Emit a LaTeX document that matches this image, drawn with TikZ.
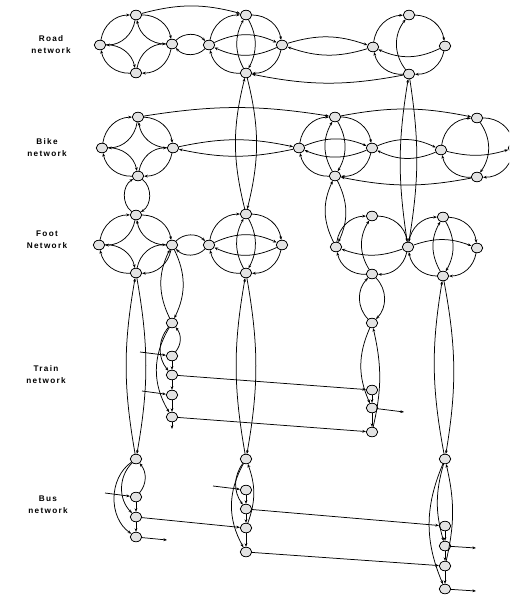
\documentclass[tikz,border=0pt]{standalone}
\usepackage{fontspec}
\setsansfont{Liberation Sans}
\usetikzlibrary{arrows.meta,shapes.geometric}

\begin{document}
\begin{tikzpicture}[x=1pt, y=-1pt, line width=0.75pt, >={Stealth[length=3.6pt,width=2.8pt]},
  station/.style={ellipse, draw, fill=gray!22, minimum width=11.5pt, minimum height=9.5pt, inner sep=0pt},
  link/.style={->},
  layer/.style={font=\sffamily\bfseries\fontsize{8.2}{12}\selectfont\addfontfeature{LetterSpace=16}, align=center}]
  \clip (0,0) rectangle (509,599);

  % Layer labels
  \node[layer] (roadlbl)  at (51,45)  {Road\\network};
  \node[layer] (bikelbl)  at (47,148) {Bike\\network};
  \node[layer] (footlbl)  at (47,240) {Foot\\Network};
  \node[layer] (trainlbl) at (46,375) {Train\\network};
  \node[layer] (buslbl)   at (48,505) {Bus\\network};

  % Road network stations
  \node[station] (r1t) at (136,15) {};
  \node[station] (r1l) at (100,45) {};
  \node[station] (r1r) at (172,44) {};
  \node[station] (r1b) at (136,73) {};
  \node[station] (r2)  at (209,45) {};
  \node[station] (r3t) at (246,15) {};
  \node[station] (r3r) at (282,45) {};
  \node[station] (r3b) at (246,73) {};
  \node[station] (r4l) at (373,47) {};
  \node[station] (r4t) at (409,15) {};
  \node[station] (r4r) at (445,46) {};
  \node[station] (r4b) at (409,74) {};

  % Bike network stations
  \node[station] (b1t) at (138,117) {};
  \node[station] (b1l) at (102,148) {};
  \node[station] (b1r) at (173,148) {};
  \node[station] (b1b) at (138,176) {};
  \node[station] (b2l) at (299,148) {};
  \node[station] (b2t) at (335,117) {};
  \node[station] (b2r) at (372,148) {};
  \node[station] (b2b) at (335,176) {};
  \node[station] (b3l) at (441,150) {};
  \node[station] (b3t) at (477,118) {};
  \node[station] (b3r) at (514,148) {};
  \node[station] (b3b) at (477,177) {};

  % Foot network stations
  \node[station] (f1t) at (136,215) {};
  \node[station] (f1l) at (99,245)  {};
  \node[station] (f1r) at (172,245) {};
  \node[station] (f1b) at (136,273) {};
  \node[station] (f2)  at (209,245) {};
  \node[station] (f3t) at (246,214) {};
  \node[station] (f3r) at (282,245) {};
  \node[station] (f3b) at (246,273) {};
  \node[station] (f4l) at (336,247) {};
  \node[station] (f4t) at (372,216) {};
  \node[station] (f4c) at (408,247) {};
  \node[station] (f4b) at (372,274) {};
  \node[station] (f5t) at (443,217) {};
  \node[station] (f5r) at (477,248) {};
  \node[station] (f5b) at (443,276) {};

  % Train network stations
  \node[station] (t1a) at (172,323) {};
  \node[station] (t1b) at (172,356) {};
  \node[station] (t1c) at (172,375) {};
  \node[station] (t1d) at (172,395) {};
  \node[station] (t1e) at (172,417) {};
  \node[station] (t2a) at (372,323) {};
  \node[station] (t2b) at (372,390) {};
  \node[station] (t2c) at (372,408) {};
  \node[station] (t2d) at (372,432) {};
  \coordinate (t1in1) at (140,352);
  \coordinate (t1in2) at (142,391);
  \coordinate (t1out) at (172,429);
  \coordinate (t2out) at (404,412);

  % Bus network stations
  \node[station] (u1a) at (136,459) {};
  \node[station] (u1b) at (136,497) {};
  \node[station] (u1c) at (136,517) {};
  \node[station] (u1d) at (136,537) {};
  \node[station] (u2a) at (246,459) {};
  \node[station] (u2b) at (246,490) {};
  \node[station] (u2c) at (246,509) {};
  \node[station] (u2d) at (246,528) {};
  \node[station] (u2e) at (246,552) {};
  \node[station] (u3a) at (445,459) {};
  \node[station] (u3b) at (445,526) {};
  \node[station] (u3c) at (445,546) {};
  \node[station] (u3d) at (445,566) {};
  \node[station] (u3e) at (445,589) {};
  \coordinate (u1in)  at (105,493);
  \coordinate (u1out) at (167,540);
  \coordinate (u2in)  at (213,486);
  \coordinate (u3out1) at (476,548);
  \coordinate (u3out2) at (476,591);

  % --- Road: west diamond, both ways on every side
  \draw[link] (r1t) to[bend left=40] (r1l);  \draw[link] (r1l) to[bend left=40] (r1t);
  \draw[link] (r1l) to[bend left=40] (r1b);  \draw[link] (r1b) to[bend left=40] (r1l);
  \draw[link] (r1b) to[bend left=40] (r1r);  \draw[link] (r1r) to[bend left=40] (r1b);
  \draw[link] (r1r) to[bend left=40] (r1t);  \draw[link] (r1t) to[bend left=40] (r1r);
  \draw[link] (r1r) to[bend left=45] (r2);   \draw[link] (r2) to[bend left=45] (r1r);
  % --- Road: middle ring
  \draw[link] (r2) to[bend left=40] (r3t);
  \draw[link] (r3t) to[bend left=40] (r3r);
  \draw[link] (r3r) to[bend left=40] (r3b);
  \draw[link] (r3b) to[bend left=40] (r2);
  \draw[link] (r3t) to[bend left=28] (r3b);  \draw[link] (r3b) to[bend left=28] (r3t);
  \draw[link] (r2) to[bend left=25] (r3r);   \draw[link] (r3r) to[bend left=25] (r2);
  \draw[link] (r1t) to[bend left=15] (r3t);
  \draw[link] (r3r) to[bend left=18] (r4l);  \draw[link] (r4l) to[bend left=18] (r3r);
  \draw[link] (r4b) to[bend left=11] (r3b);
  % --- Road: east ring
  \draw[link] (r4l) to[bend left=40] (r4t);
  \draw[link] (r4t) to[bend left=40] (r4r);
  \draw[link] (r4r) to[bend left=40] (r4b);
  \draw[link] (r4b) to[bend left=40] (r4l);
  \draw[link] (r4b) to[bend left=38] (r4t);
  \draw[link] (r4r) to[bend left=25] (r4l);

  % --- Road down to foot
  \draw[link] (r3b) to[bend left=14] (f3t);  \draw[link] (f3t) to[bend left=14] (r3b);
  \draw[link] (r4b) to[bend left=9] (f4c);   \draw[link] (f4c) to[bend left=9] (r4b);

  % --- Bike: west diamond
  \draw[link] (b1t) to[bend left=40] (b1l);  \draw[link] (b1l) to[bend left=40] (b1t);
  \draw[link] (b1l) to[bend left=40] (b1b);  \draw[link] (b1b) to[bend left=40] (b1l);
  \draw[link] (b1b) to[bend left=40] (b1r);  \draw[link] (b1r) to[bend left=40] (b1b);
  \draw[link] (b1r) to[bend left=40] (b1t);  \draw[link] (b1t) to[bend left=40] (b1r);
  \draw[link] (b1b) to[bend left=55] (f1t);  \draw[link] (f1t) to[bend left=55] (b1b);
  \draw[link] (b1t) to[bend left=9] (b2t);
  \draw[link] (b1r) to[bend left=12] (b2l);  \draw[link] (b2l) to[bend left=12] (b1r);
  % --- Bike: middle ring
  \draw[link] (b2l) to[bend left=40] (b2t);
  \draw[link] (b2t) to[bend left=40] (b2r);
  \draw[link] (b2r) to[bend left=40] (b2b);
  \draw[link] (b2b) to[bend left=40] (b2l);
  \draw[link] (b2t) to[bend left=30] (b2b);  \draw[link] (b2b) to[bend left=30] (b2t);
  \draw[link] (b2l) to[bend left=22] (b2r);  \draw[link] (b2r) to[bend left=22] (b2l);
  \draw[link] (b2r) to[bend left=24] (b3l);  \draw[link] (b3l) to[bend left=24] (b2r);
  \draw[link] (b2t) to[bend left=11] (b3t);
  \draw[link] (b3b) to[bend left=11] (b2b);
  \draw[link] (b2b) to[bend left=26] (f4l);  \draw[link] (f4l) to[bend left=26] (b2b);
  % --- Bike: east ring
  \draw[link] (b3l) to[bend left=40] (b3t);
  \draw[link] (b3t) to[bend left=40] (b3r);
  \draw[link] (b3r) to[bend left=40] (b3b);
  \draw[link] (b3b) to[bend left=40] (b3l);
  \draw[link] (b3t) to[bend left=35] (b3b);
  \draw[link] (b3l) to[bend right=15] (b3r);

  % --- Foot: west diamond
  \draw[link] (f1t) to[bend left=40] (f1l);  \draw[link] (f1l) to[bend left=40] (f1t);
  \draw[link] (f1l) to[bend left=40] (f1b);  \draw[link] (f1b) to[bend left=40] (f1l);
  \draw[link] (f1b) to[bend left=40] (f1r);  \draw[link] (f1r) to[bend left=40] (f1b);
  \draw[link] (f1r) to[bend left=40] (f1t);  \draw[link] (f1t) to[bend left=40] (f1r);
  \draw[link] (f1r) to[bend left=45] (f2);   \draw[link] (f2) to[bend left=45] (f1r);
  % --- Foot: middle ring
  \draw[link] (f2) to[bend left=40] (f3t);
  \draw[link] (f3t) to[bend left=40] (f3r);
  \draw[link] (f3r) to[bend left=40] (f3b);
  \draw[link] (f3b) to[bend left=40] (f2);
  \draw[link] (f3t) to[bend left=28] (f3b);  \draw[link] (f3b) to[bend left=28] (f3t);
  \draw[link] (f2) to[bend left=25] (f3r);   \draw[link] (f3r) to[bend left=25] (f2);
  % --- Foot: east pair of rings
  \draw[link] (f4l) to[bend left=40] (f4t);
  \draw[link] (f4t) to[bend left=40] (f4c);
  \draw[link] (f4c) to[bend left=40] (f4b);
  \draw[link] (f4b) to[bend left=40] (f4l);
  \draw[link] (f4b) to[bend left=32] (f4t);
  \draw[link] (f4c) to[bend left=20] (f4l);
  \draw[link] (f4c) to[bend left=40] (f5t);
  \draw[link] (f5t) to[bend left=40] (f5r);
  \draw[link] (f5r) to[bend left=40] (f5b);
  \draw[link] (f5b) to[bend left=40] (f4c);
  \draw[link] (f5t) to[bend left=30] (f5b);  \draw[link] (f5b) to[bend left=30] (f5t);
  \draw[link] (f4c) to[bend left=20] (f5r);

  % --- Foot down to train and bus
  \draw[link] (f1r) to[bend left=26] (t1a);  \draw[link] (t1a) to[bend left=26] (f1r);
  \draw[link] (f4b) to[bend left=45] (t2a);  \draw[link] (t2a) to[bend left=45] (f4b);
  \draw[link] (f1b) to[bend left=10] (u1a);  \draw[link] (u1a) to[bend left=10] (f1b);
  \draw[link] (f3b) to[bend left=10] (u2a);  \draw[link] (u2a) to[bend left=10] (f3b);
  \draw[link] (f5b) to[bend left=10] (u3a);  \draw[link] (u3a) to[bend left=10] (f5b);

  % --- Train lines
  \draw[link] (t1a) to[bend right=40] (t1c);
  \draw[link] (t1a) to[bend right=31] (t1e);
  \draw[link] (t1b) to[bend right=40] (t1a);
  \draw[link] (t1b) -- (t1c);
  \draw[link] (t1c) -- (t1d);
  \draw[link] (t1d) -- (t1e);
  \draw[link] (t1e) -- (t1out);
  \draw[link] (t1in1) -- (t1b);
  \draw[link] (t1in2) -- (t1d);
  \draw[link] (t1c) -- (t2b);
  \draw[link] (t1e) -- (t2d);
  \draw[link] (t2a) to[bend right=24] (t2c);
  \draw[link] (t2d) to[bend right=13] (t2a);
  \draw[link] (t2b) -- (t2c);
  \draw[link] (t2c) -- (t2d);
  \draw[link] (t2c) -- (t2out);

  % --- Bus lines
  \draw[link] (u1b) to[bend right=40] (u1a);
  \draw[link] (u1a) to[bend right=45] (u1c);
  \draw[link] (u1a) to[bend right=55] (u1d);
  \draw[link] (u1in) -- (u1b);
  \draw[link] (u1b) -- (u1c);
  \draw[link] (u1c) -- (u1d);
  \draw[link] (u1d) -- (u1out);
  \draw[link] (u1c) -- (u2d);
  \draw[link] (u2a) to[bend right=36] (u2c);
  \draw[link] (u2a) to[bend right=29] (u2e);
  \draw[link] (u2d) to[bend right=20] (u2a);
  \draw[link] (u2in) -- (u2b);
  \draw[link] (u2b) -- (u2c);
  \draw[link] (u2c) -- (u2d);
  \draw[link] (u2d) -- (u2e);
  \draw[link] (u2c) -- (u3b);
  \draw[link] (u2e) -- (u3d);
  \draw[link] (u3a) to[bend right=16] (u3c);
  \draw[link] (u3a) to[bend right=23] (u3e);
  \draw[link] (u3d) to[bend right=13] (u3a);
  \draw[link] (u3b) -- (u3c);
  \draw[link] (u3c) -- (u3d);
  \draw[link] (u3d) -- (u3e);
  \draw[link] (u3c) -- (u3out1);
  \draw[link] (u3e) -- (u3out2);
\end{tikzpicture}
\end{document}
